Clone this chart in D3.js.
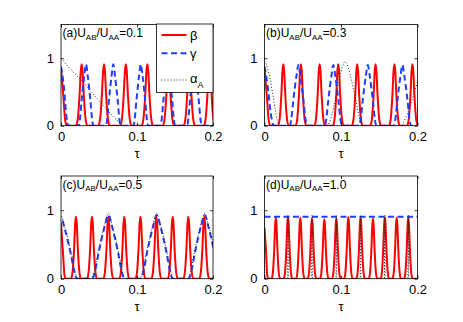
<!DOCTYPE html>
<html><head><meta charset="utf-8">
<script src="https://cdn.jsdelivr.net/npm/d3@7"></script>
<style>body{margin:0;background:#fff} svg{display:block}</style>
</head><body><svg id="c" width="463" height="322"></svg>
<script>
// ---------------- data ----------------
const tauTicks = [0, 0.1, 0.2];
const tauTickLabels = ["0", "0.1", "0.2"];
const yTicks = [0, 1];
const yTickLabels = ["0", "1"];
const panelTags = ["(a)", "(b)", "(c)", "(d)"];
const ratioLabels = ["0.1", "0.3", "0.5", "1.0"];
const legendNames = ["β", "γ", "α"];

// peak shapes: offset (fraction of half-width) -> fraction of peak height
const narrowU = [-1, -0.7, -0.37, -0.15, 0, 0.15, 0.37, 0.7, 1];
const narrowF = [0, 0.1, 0.5, 0.9, 1, 0.9, 0.5, 0.1, 0];
const humpU = [-1, -0.85, -0.6, -0.23, 0, 0.23, 0.6, 0.85, 1];
const humpF = [0, 0.1, 0.42, 0.82, 1, 0.82, 0.42, 0.1, 0];

// (a) U_AB/U_AA = 0.1
const betaA_lead = [[0,0.86],[0.003,0.45],[0.0055,0.08],[0.0075,0]];
const betaA_centers = [0.0272,0.0566,0.0853,0.1136,0.1414,0.1688,0.1954];
const betaA_heights = [0.91,0.91,0.91,0.91,0.91,0.91,0.91];
const gammaA_lead = [[0,0.88],[0.004,0.55],[0.007,0.15],[0.0095,0]];
const gammaA_centers = [0.0329,0.0688,0.1050,0.1405,0.1755];
const gammaA_heights = [0.91,0.91,0.91,0.91,0.91];
const alphaA_points = [[0,1.0],[0.01,0.87],[0.02,0.75],[0.0272,0.67],[0.04,0.5],[0.049,0.38],[0.06,0.24],[0.07,0.12],[0.0776,0.04],[0.082,0],[0.2,0]];

// (b) U_AB/U_AA = 0.3
const betaB_lead = [[0,0.85],[0.003,0.45],[0.0055,0.08],[0.0075,0]];
const betaB_centers = [0.0246,0.0476,0.0721,0.0964,0.1212,0.1452,0.1698,0.1934];
const betaB_heights = [0.91,0.91,0.91,0.91,0.91,0.91,0.91,0.91];
const gammaB_lead = [[0,0.88],[0.004,0.6],[0.008,0.2],[0.012,0]];
const gammaB_centers = [0.0443,0.0900,0.1350,0.1803];
const gammaB_heights = [0.9,0.9,0.9,0.9];
const alphaB_points = [[0,0.96],[0.004,0.85],[0.0076,0.68],[0.011,0.45],[0.0141,0.23],[0.0175,0.04],[0.0195,0],
  [0.081,0],[0.085,0.05],[0.091,0.3],[0.097,0.64],[0.102,0.88],[0.105,0.95],[0.108,0.91],[0.114,0.66],[0.12,0.34],[0.125,0.08],[0.129,0],
  [0.179,0],[0.183,0.08],[0.1885,0.23],[0.194,0.42],[0.2,0.65]];

// (c) U_AB/U_AA = 0.5
const betaC_lead = [[0,0.81],[0.0025,0.4],[0.0045,0.06],[0.006,0]];
const betaC_centers = [0.0197,0.0408,0.0623,0.0833,0.1045,0.1255,0.147,0.1675,0.1885];
const betaC_heights = [0.905,0.905,0.905,0.905,0.905,0.905,0.905,0.905,0.905];
const gammaC_centers = [0.0,0.0623,0.126,0.189];
const gammaC_heights = [0.89,0.93,0.93,0.93];
const alphaC_centers = [0.0,0.0623,0.126,0.189];
const alphaC_heights = [0.92,0.955,0.955,0.955];

// (d) U_AB/U_AA = 1.0
const betaD_lead = [[0,0.74],[0.002,0.4],[0.0035,0.06],[0.0048,0]];
const betaD_centers = [0.0148,0.0307,0.0468,0.0621,0.0782,0.0939,0.1096,0.1256,0.1418,0.1573,0.1728,0.188];
const betaD_heights = [0.89,0.9,0.89,0.88,0.87,0.88,0.9,0.9,0.88,0.9,0.89,0.89];
const gammaD_points = [[0,0.905],[0.2,0.905]];
const alphaD_centers = [0.0,0.0307,0.0621,0.0939,0.1256,0.1573,0.188];
const alphaD_heights = [0.95,0.93,0.93,0.93,0.93,0.93,0.93];

// ---------------- build curves ----------------
function build(lead, centers, heights, hw, U, F) {
  let pts = lead ? lead.slice() : [];
  centers.forEach((c, i) => U.forEach((u, j) => pts.push([c + u * hw, F[j] * heights[i]])));
  pts.sort((a, b) => a[0] - b[0]);
  if (pts[0][0] > 0) pts.unshift([0, 0]);
  if (pts[pts.length - 1][0] < 0.2) pts.push([0.2, 0]);
  return pts;
}

const panels = [
  { box: [61, 213, 24.5, 125.7],
    beta: build(betaA_lead, betaA_centers, betaA_heights, 0.0075, narrowU, narrowF),
    gamma: build(gammaA_lead, gammaA_centers, gammaA_heights, 0.0095, humpU, humpF),
    alpha: alphaA_points, legend: true },
  { box: [264.5, 417.5, 24.5, 125.7],
    beta: build(betaB_lead, betaB_centers, betaB_heights, 0.007, narrowU, narrowF),
    gamma: build(gammaB_lead, gammaB_centers, gammaB_heights, 0.011, humpU, humpF),
    alpha: alphaB_points },
  { box: [61, 213, 176, 278.7],
    beta: build(betaC_lead, betaC_centers, betaC_heights, 0.0065, narrowU, narrowF),
    gamma: build(null, gammaC_centers, gammaC_heights, 0.021, humpU, humpF),
    alpha: build(null, alphaC_centers, alphaC_heights, 0.022, humpU, humpF) },
  { box: [264.5, 417.5, 176, 278.7],
    beta: build(betaD_lead, betaD_centers, betaD_heights, 0.0055, narrowU, narrowF),
    gamma: gammaD_points,
    alpha: build(null, alphaD_centers, alphaD_heights, 0.0006, narrowU, narrowF) }
];

const FONT = "'Liberation Sans', Arial, Helvetica, sans-serif";
const RED = "#ff0000", BLUE = "#1f3fff", DOT = "#222";
const svg = d3.select("#c");

panels.forEach((p, k) => {
  const [x0, x1, y0, y1] = p.box;
  const x = d3.scaleLinear().domain([0, 0.2]).range([x0, x1]);
  const y = d3.scaleLinear().domain([0, 1.5]).range([y1, y0]);
  const g = svg.append("g");
  const clipId = "clip" + k;
  g.append("clipPath").attr("id", clipId).append("rect")
    .attr("x", x0).attr("y", y0).attr("width", x1 - x0).attr("height", y1 - y0);
  const line = d3.line().x(d => x(d[0])).y(d => y(d[1])).curve(d3.curveMonotoneX);
  const plot = g.append("g").attr("clip-path", `url(#${clipId})`);
  plot.append("path").attr("d", line(p.beta)).attr("fill", "none")
    .attr("stroke", RED).attr("stroke-width", 2);
  plot.append("path").attr("d", line(p.gamma)).attr("fill", "none")
    .attr("stroke", BLUE).attr("stroke-width", 2).attr("stroke-dasharray", "6,3.5");
  plot.append("path").attr("d", line(p.alpha)).attr("fill", "none")
    .attr("stroke", DOT).attr("stroke-width", 1).attr("stroke-dasharray", "1,2");

  // axes (ticks inward, mirrored)
  const axB = d3.axisBottom(x).tickValues(tauTicks).tickSizeInner(-3).tickSizeOuter(0)
    .tickFormat((d, i) => tauTickLabels[i]).tickPadding(6);
  const axT = d3.axisTop(x).tickValues(tauTicks).tickSizeInner(-3).tickSizeOuter(0).tickFormat("");
  const axL = d3.axisLeft(y).tickValues(yTicks).tickSizeInner(-3).tickSizeOuter(0)
    .tickFormat((d, i) => yTickLabels[i]).tickPadding(7);
  const axR = d3.axisRight(y).tickValues(yTicks).tickSizeInner(-3).tickSizeOuter(0).tickFormat("");
  [[axB, `translate(0,${y1})`], [axT, `translate(0,${y0})`], [axL, `translate(${x0},0)`], [axR, `translate(${x1},0)`]]
    .forEach(([ax, tr]) => {
      const a = g.append("g").attr("transform", tr).call(ax);
      a.select(".domain").remove();
      a.selectAll("line").attr("stroke", "#000").attr("stroke-width", 0.8);
      a.selectAll("text").attr("font-family", FONT).attr("font-size", 13).attr("fill", "#000");
    });
  g.append("rect").attr("x", x0).attr("y", y0).attr("width", x1 - x0).attr("height", y1 - y0)
    .attr("fill", "none").attr("stroke", "#000").attr("stroke-width", 0.8);

  // x label
  g.append("text").attr("x", (x0 + x1) / 2).attr("y", y1 + 32).attr("text-anchor", "middle")
    .attr("font-family", FONT).attr("font-size", 13).text("τ");

  // panel title
  const t = g.append("text").attr("x", x0 + 1.5).attr("y", y0 + 12.8)
    .attr("font-family", FONT).attr("font-size", 12).attr("fill", "#000");
  t.append("tspan").text(panelTags[k] + "U");
  t.append("tspan").attr("dy", 2.5).attr("font-size", 8).text("AB");
  t.append("tspan").attr("dy", -2.5).text("/U");
  t.append("tspan").attr("dy", 2.5).attr("font-size", 8).text("AA");
  t.append("tspan").attr("dy", -2.5).text("=" + ratioLabels[k]);

  if (p.legend) {
    const lx0 = 156.5, ly0 = 24, lw = x1 - 156.5, lh = 68.5;
    const lg = g.append("g");
    lg.append("rect").attr("x", lx0).attr("y", ly0).attr("width", lw).attr("height", lh)
      .attr("fill", "#fff").attr("stroke", "#000").attr("stroke-width", 0.8);
    const rows = [
      { yy: 35, stroke: RED, w: 2, dash: null, name: legendNames[0], base: 39.5 },
      { yy: 53.3, stroke: BLUE, w: 2, dash: "6,3.5", name: legendNames[1], base: 57.5 },
      { yy: 80, stroke: DOT, w: 1, dash: "1,2", name: legendNames[2], base: 83, sub: "A" }
    ];
    rows.forEach(r => {
      lg.append("line").attr("x1", 161.5).attr("x2", 186.5).attr("y1", r.yy).attr("y2", r.yy)
        .attr("stroke", r.stroke).attr("stroke-width", r.w).attr("stroke-dasharray", r.dash);
      const tx = lg.append("text").attr("x", 190).attr("y", r.base)
        .attr("font-family", FONT).attr("font-size", 13).text(r.name);
      if (r.sub) tx.append("tspan").attr("dy", 5).attr("font-size", 9).text(r.sub);
    });
  }
});
</script></body></html>
